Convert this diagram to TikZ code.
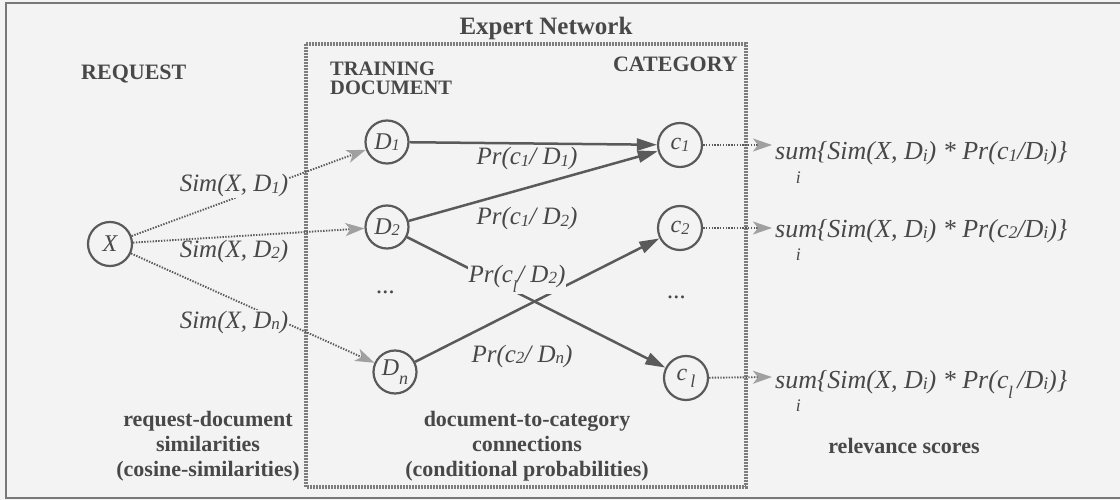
\documentclass[tikz,border=0pt]{standalone}
\usepackage{fontspec}
\setmainfont{Liberation Serif}
\usepackage{graphicx}
\usetikzlibrary{arrows.meta}

\definecolor{paper}{RGB}{243,243,243}
\definecolor{ink}{RGB}{72,72,72}
\definecolor{edge}{RGB}{90,90,90}
\definecolor{mesh}{RGB}{160,160,160}
\definecolor{frame}{RGB}{120,120,120}
\definecolor{netframe}{RGB}{125,125,125}

% small index set on the baseline
\newcommand\dg[1]{\raisebox{-0.06em}{\scalebox{0.68}{#1}}}
% c with a lowered l
\newcommand\cel{c\kern-0.02em\raisebox{-0.42em}{\scalebox{0.68}{l}}}
% "sum" with the index i under it
\newcommand\sumi{su\makebox[0pt]{\raisebox{-0.9em}{\scalebox{0.68}{i}}}m}

\begin{document}
\begin{tikzpicture}[x=1pt,y=-1pt,
  txt/.style={text=ink, inner sep=0pt},
  bold/.style={txt, font=\fontsize{22}{25}\selectfont\bfseries, align=center},
  head/.style={txt, font=\fontsize{20.5}{23}\selectfont\bfseries, anchor=base west},
  lab/.style={txt, font=\fontsize{25}{28}\selectfont\itshape},
  score/.style={txt, font=\fontsize{26}{28}\selectfont\itshape, anchor=base west},
  cover/.style={lab, fill=paper, inner sep=1pt},
  circ/.style={circle, draw=edge, line width=2.2pt, minimum size=44pt,
    inner sep=0pt, text=ink, font=\fontsize{24}{26}\selectfont\itshape},
  link/.style={draw=edge, line width=2.5pt,
    -{Triangle[length=20pt,width=12pt]}},
  simlink/.style={draw=edge, line width=1.9pt, dash pattern=on 1.4pt off 1.4pt,
    -{Stealth[length=19pt,width=13pt,inset=5pt,color=mesh]}},
]
\useasboundingbox (0,0) rectangle (1120,500);
\fill[paper] (0,0) rectangle (1120,500);
\draw[frame, line width=2.5pt] (1120,3) -- (6,3) -- (6,498) -- (1120,498);

% expert network frame
\draw[netframe, line width=3.5pt, dash pattern=on 1.6pt off 1.4pt]
  (306,44) rectangle (746,487);
\node[bold, font=\fontsize{25}{28}\selectfont\bfseries, anchor=base]
  (title) at (546,35) {Expert Network};

% column headings
\node[bold, anchor=base west] (hreq) at (81,80) {REQUEST};
\node[head] (htrain) at (330,76) {TRAINING};
\node[head] (hdoc) at (330,95) {DOCUMENT};
\node[bold, anchor=base east] (hcat) at (738,72) {CATEGORY};

% nodes
\node[circ] (X) at (110,244) {X};
\node[circ, minimum size=43pt] (D1) at (387,142) {D\dg{1}};
\node[circ, minimum size=43pt] (D2) at (387,227) {D\dg{2}};
\node[circ, minimum size=43pt] (Dn) at (395,372) {D\raisebox{-0.35em}{\scalebox{0.75}{n}}};
\node[circ] (c1) at (680,145) {c\dg{1}};
\node[circ] (c2) at (680,228) {c\dg{2}};
\node[circ] (cl) at (686,378) {c\kern0.12em\raisebox{-0.3em}{\scalebox{0.75}{l}}};

\node[lab, anchor=base] (dotsD) at (386,293) {...};
\node[lab, anchor=base] (dotsC) at (677,298) {...};

% ends of the score arrows
\coordinate (e1) at (772,145);
\coordinate (e2) at (772,228);
\coordinate (e3) at (772,377);

% similarity arrows
\draw[simlink] (X) -- (D1);
\draw[simlink] (X) -- (D2);
\draw[simlink] (X) -- (Dn);

% conditional probability arrows
\draw[link] (D1) -- (c1);
\draw[link] (D2) -- (c1);
\draw[link] (D2) -- (cl);
\draw[link] (Dn) -- (c2);

% score arrows
\draw[simlink] (c1) -- (e1);
\draw[simlink] (c2) -- (e2);
\draw[simlink] (cl) -- (e3);

% edge labels
\node[cover, anchor=base] (s1) at (234,192) {Sim(X, D\dg{1})};
\node[lab, anchor=base] (s2) at (234,257) {Sim(X, D\dg{2})};
\node[cover, anchor=base] (s3) at (234,328) {Sim(X, D\dg{n})};

\node[cover, anchor=base] (p1) at (527,165) {Pr(c\dg{1}/ D\dg{1})};
\node[cover, anchor=base] (p2) at (527,225) {Pr(c\dg{1}/ D\dg{2})};
\node[cover, anchor=base] (p3) at (517,282) {Pr(\cel/ D\dg{2})};
\node[cover, anchor=base] (p4) at (522,362) {Pr(c\dg{2}/ D\dg{n})};

% relevance scores
\node[score] (r1) at (775,160) {\sumi\{Sim(X, D\dg{i}) * Pr(c\dg{1}/D\dg{i})\}};
\node[score] (r2) at (775,237) {\sumi\{Sim(X, D\dg{i}) * Pr(c\dg{2}/D\dg{i})\}};
\node[score] (r3) at (775,388) {\sumi\{Sim(X, D\dg{i}) * Pr(\cel\,/D\dg{i})\}};

% column captions
\node[bold] (capreq) at (208,446) {request-document\\similarities\\(cosine-similarities)};
\node[bold] (capnet) at (527,446) {document-to-category\\connections\\(conditional probabilities)};
\node[bold] (capscore) at (904,446) {relevance scores};
\end{tikzpicture}
\end{document}
